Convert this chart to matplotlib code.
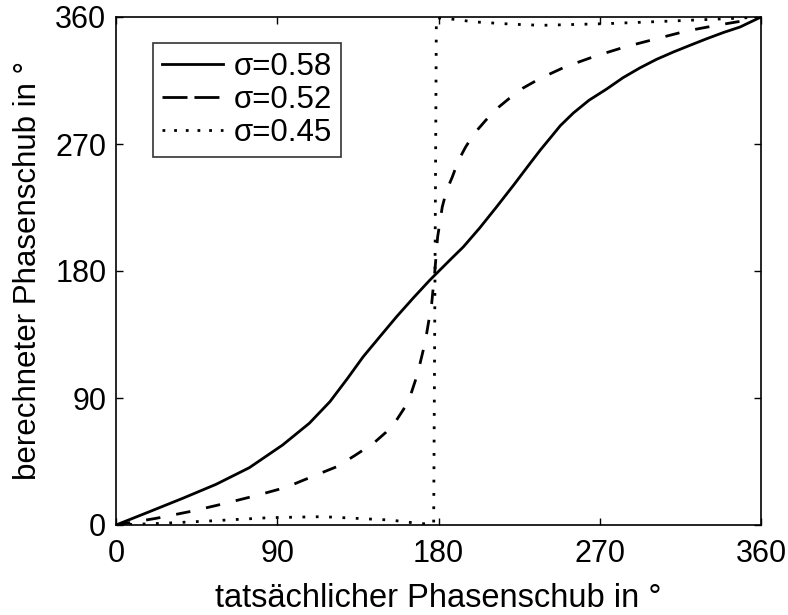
import matplotlib
matplotlib.use("Agg")
import matplotlib.pyplot as plt
from matplotlib.lines import Line2D

plt.rcParams['font.family'] = ['Liberation Sans', 'DejaVu Sans']

# solid, sigma = 0.58
x_058 = [0, 18.6, 37.2, 55.8, 74.4, 93, 107.9, 119.4, 129, 138, 147.3, 156.6, 166, 175.2,
         186.4, 193.8, 203, 212.4, 222, 231, 237, 242.2, 248, 255.3, 264, 273.9, 283, 292.5,
         301.7, 311.1, 320.5, 329.7, 339, 348.3, 360]
y_058 = [0, 9.4, 18.9, 28.8, 40.6, 56.7, 72.1, 87.4, 103.5, 119.3, 133.5, 147.6, 161, 173.6,
         187.8, 197, 210.5, 225.4, 241, 256.1, 266, 274, 283, 292, 301, 309, 317, 324,
         330, 335.2, 340, 344.6, 349, 352.9, 360]

# dashed, sigma = 0.52
x_052 = [0, 22.3, 42.8, 59.5, 78.1, 94.9, 111.6, 123.2, 133, 143.7, 150.5, 156.6, 160.5,
         164.1, 167, 169.7, 171.7, 173.4, 176.2, 178, 179.5, 182.1, 184.5, 187.7, 191,
         195.1, 200, 206.3, 212.5, 219.3, 227, 236.6, 250.6, 267.3, 284.1, 301.7, 318.5,
         335.2, 352, 360]
y_052 = [0, 4.7, 9.9, 14.9, 20.8, 26.7, 35.4, 41.3, 49, 57.9, 65.5, 74.4, 82,
         90.9, 102, 114.5, 125, 135.8, 157, 180.6, 204, 225.4, 237, 246.6, 258,
         267.8, 277.5, 286.7, 295, 302.1, 309.5, 316.4, 324.6, 332.2, 338.8, 344.6, 350.1,
         354.1, 357.7, 360]

# dotted, sigma = 0.45
x_045 = [0, 26, 55.8, 85.6, 115.3, 153.3, 168.2, 177.3, 178.8, 185.5, 200.4,
         222.7, 237.6, 273.9, 311.1, 340.8, 360]
y_045 = [0, 1.2, 3.1, 5.2, 5.9, 3.5, 1.2, 0.5, 359.5, 358.8, 356.5,
         354.8, 354.1, 355.3, 357.2, 358.8, 360]

labels = ['σ=0.58', 'σ=0.52', 'σ=0.45']
ticks = [0, 90, 180, 270, 360]

fig = plt.figure(figsize=(7.88, 6.15), dpi=100)
ax = fig.add_axes([116/788, 1 - 525/615, (761-116)/788, (525-17)/615])

lw = 2.0
ax.plot(x_058, y_058, color='black', lw=lw, linestyle='-')
ax.plot(x_052, y_052, color='black', lw=lw, linestyle=(0, (5.2, 5.8)))
ax.plot(x_045, y_045, color='black', lw=lw, linestyle=(0, (1, 3.8)))

ax.set_xlim(0, 360)
ax.set_ylim(0, 360)
ax.set_xticks(ticks)
ax.set_yticks(ticks)
ax.tick_params(direction='in', length=5, width=1, top=True, right=True, labelsize=22)
ax.tick_params(axis='x', pad=10)
ax.tick_params(axis='y', pad=7)
for s in ax.spines.values():
    s.set_linewidth(1.2)

ax.set_xlabel('tatsächlicher Phasenschub in °', fontsize=23.5, labelpad=10)
ax.set_ylabel('berechneter Phasenschub in °', fontsize=22.5, labelpad=9)

handles = [
    Line2D([], [], color='black', lw=lw, linestyle='-'),
    Line2D([], [], color='black', lw=lw, linestyle=(0, (9, 2.5))),
    Line2D([], [], color='black', lw=lw, linestyle=(0, (1, 3.2))),
]
leg = ax.legend(handles, labels, loc='upper left',
                bbox_to_anchor=((153-116)/645, (525-43)/508),
                fontsize=22.5, frameon=True, fancybox=False, edgecolor='black',
                handlelength=1.95, handletextpad=0.35, labelspacing=0.1,
                borderpad=0.28, borderaxespad=0)
leg.get_frame().set_linewidth(1.2)

fig.savefig('out.png', dpi=100)
